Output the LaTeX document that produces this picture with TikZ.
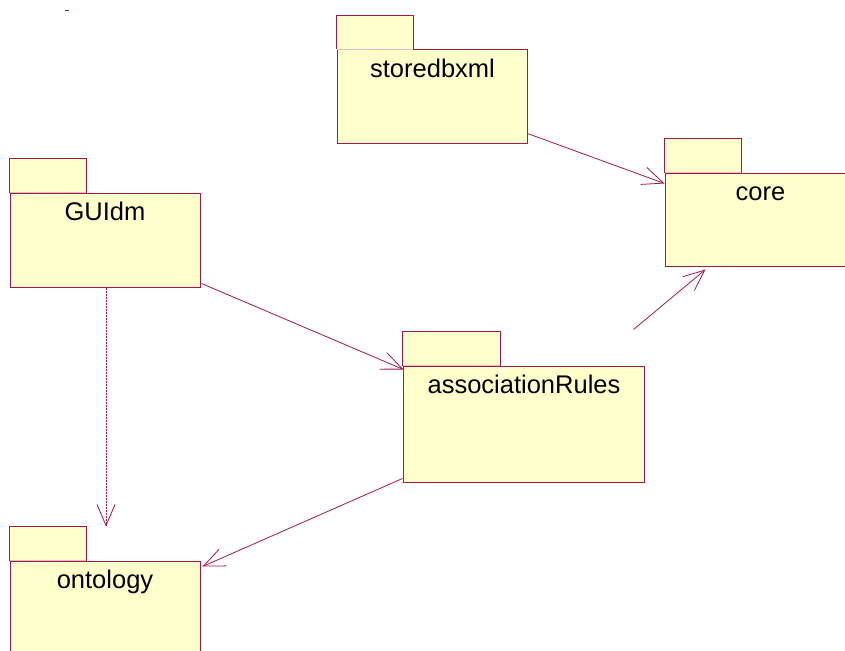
\documentclass[tikz,border=0pt]{standalone}
\usepackage{fontspec}
\setmainfont{Liberation Sans}
\usetikzlibrary{arrows.meta,calc}

\definecolor{pkgline}{HTML}{A5174A}
\definecolor{pkgfill}{HTML}{FFFFCC}

\tikzset{
  pkgbody/.style={draw=pkgline, fill=pkgfill, line width=1pt, rectangle,
    inner sep=0pt, minimum width=190pt},
  pkgtab/.style={fill=pkgfill, rectangle,
    inner sep=0pt, minimum width=77pt, minimum height=34pt, anchor=south west},
  tabedge/.style={draw=pkgline, line width=1pt},
  tabseam/.style={draw=pkgline!30, line width=1pt},
  pkglabel/.style={anchor=base, inner sep=0pt, font=\fontsize{25.5}{30}\selectfont},
  dep/.style={draw=pkgline, line width=0.8pt,
    -{Straight Barb[length=21pt, width=18pt, line width=0.8pt]}},
}

\begin{document}
\begin{tikzpicture}[x=1pt, y=-1pt]
  \useasboundingbox (0,0) rectangle (845,650);

  % stray mark at the top
  \draw[pkgline, line width=1pt] (65,11) -- (69,11);

  % package bodies
  \node[pkgbody, minimum height=93pt] (stored) at (432,96.5) {};
  \node[pkgbody, minimum width=191pt, minimum height=93pt] (core) at (760.5,219.5) {};
  \node[pkgbody, minimum height=94pt] (gui) at (105,240) {};
  \node[pkgbody, minimum width=241pt, minimum height=116pt] (assoc) at (523.5,424) {};
  \node[pkgbody, minimum height=99pt] (onto) at (105,610.5) {};

  % package tabs: outline on three sides, pale seam along the body
  \node[pkgtab] (storedT) at (stored.north west) {};
  \node[pkgtab] (coreT) at (core.north west) {};
  \node[pkgtab] (guiT) at (gui.north west) {};
  \node[pkgtab, minimum width=98pt] (assocT) at (assoc.north west) {};
  \node[pkgtab] (ontoT) at (onto.north west) {};
  \foreach \t in {storedT, coreT, guiT, assocT, ontoT} {
    \draw[tabseam] ($(\t.south west)+(0.5,0)$) -- ($(\t.south east)+(-0.5,0)$);
    \draw[tabedge] (\t.south west) -- (\t.north west) -- (\t.north east) -- (\t.south east);
  }

  % package names
  \node[pkglabel] (storedL) at ($(stored.north)+(0.5,28)$) {storedbxml};
  \node[pkglabel] (coreL) at ($(core.north)+(0,28)$) {core};
  \node[pkglabel] (guiL) at ($(gui.north)+(0,28)$) {GUIdm};
  \node[pkglabel] (assocL) at ($(assoc.north)+(0.5,28)$) {associationRules};
  \node[pkglabel] (ontoL) at ($(onto.north)+(0,28)$) {ontology};

  % dependencies
  \coordinate (assocOut) at ($(assoc.north east)+(-11,-36)$);
  \draw[dep] ($(stored.south east)+(0,-10)$) -- ($(core.north west)+(0,11)$);
  \draw[dep] (assocOut) -- ($(core.south west)+(41,3)$);
  \draw[dep] ($(gui.south east)+(1,-4)$) -- ($(assoc.north west)+(1,4)$);
  \draw[dep, dash pattern=on 2pt off 1pt] ($(gui.south)+(1,0)$) -- ($(onto.north)+(1,-34)$);
  \draw[dep] ($(assoc.south west)+(0,-4)$) -- ($(onto.north east)+(2,6)$);
\end{tikzpicture}
\end{document}
